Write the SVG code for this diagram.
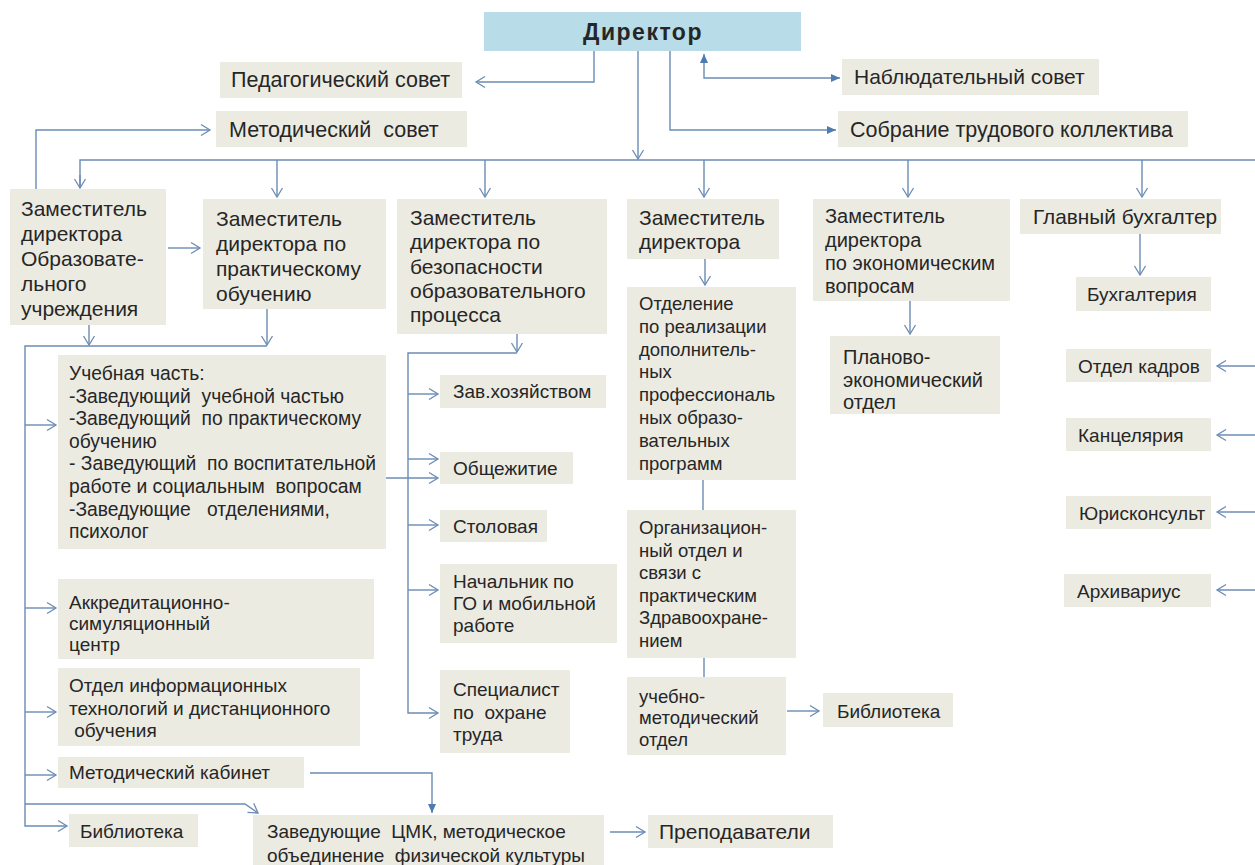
<svg xmlns="http://www.w3.org/2000/svg" width="1255" height="865" viewBox="0 0 1255 865">
<defs>
<style>
.b{fill:#ecebe2}
.d{fill:#b8dde8}
text{font-family:"Liberation Sans",Arial,sans-serif;fill:#262626;font-size:20px}
.s19{font-size:19px}
.s193{font-size:19.3px}
.s18{font-size:18.5px}
.s20{font-size:20px}
.s208{font-size:20.8px}
.s21{font-size:21px}
.s215{font-size:21.5px}
.dir{font-size:23px;font-weight:bold;letter-spacing:1.5px}
.c{stroke:#6b8cb4;stroke-width:1.4;fill:none}
</style>
<marker id="a" markerWidth="12" markerHeight="14" refX="10" refY="7" orient="auto" markerUnits="userSpaceOnUse"><path d="M1,1.5 L10,7 L1,12.5" fill="none" stroke="#6b8cb4" stroke-width="1.3"/></marker>
<marker id="f" markerWidth="11" markerHeight="11" refX="9" refY="5.5" orient="auto-start-reverse" markerUnits="userSpaceOnUse"><path d="M0,1.5 L9,5.5 L0,9.5 z" fill="#4f7bb0"/></marker>
</defs>
<rect width="1255" height="865" fill="#ffffff"/>

<g id="director"><rect class="d" x="484" y="12" width="317" height="39"/><text class="dir" x="643" y="40" text-anchor="middle">Директор</text></g>
<g id="ped"><rect class="b" x="220" y="62" width="242" height="36"/><text class="s215" x="231" y="87">Педагогический совет</text></g>
<g id="nabl"><rect class="b" x="842" y="59" width="257" height="36"/><text class="s21" x="854" y="84">Наблюдательный совет</text></g>
<g id="metsovet"><rect class="b" x="216" y="111" width="251" height="36"/><text class="s215" x="229" y="137" xml:space="preserve">Методический  совет</text></g>
<g id="sobr"><rect class="b" x="838" y="111" width="350" height="36"/><text class="s215" x="850" y="137">Собрание трудового коллектива</text></g>

<g id="zam1"><rect class="b" x="10" y="189" width="156" height="136"/><text class="s21"><tspan x="21" y="216">Заместитель</tspan><tspan x="21" y="241">директора</tspan><tspan x="21" y="266">Образовате-</tspan><tspan x="21" y="291">льного</tspan><tspan x="21" y="316">учреждения</tspan></text></g>
<g id="zam2"><rect class="b" x="203" y="199" width="183" height="110"/><text class="s21"><tspan x="216" y="226">Заместитель</tspan><tspan x="216" y="251">директора по</tspan><tspan x="216" y="276">практическому</tspan><tspan x="216" y="301">обучению</tspan></text></g>
<g id="zam3"><rect class="b" x="397" y="199" width="210" height="135"/><text class="s21"><tspan x="410" y="225">Заместитель</tspan><tspan x="410" y="249">директора по</tspan><tspan x="410" y="274">безопасности</tspan><tspan x="410" y="298">образовательного</tspan><tspan x="410" y="322">процесса</tspan></text></g>
<g id="zam4"><rect class="b" x="627" y="199" width="152" height="60"/><text class="s21"><tspan x="639" y="225">Заместитель</tspan><tspan x="639" y="249">директора</tspan></text></g>
<g id="zam5"><rect class="b" x="813" y="199" width="197" height="102"/><text class="s20"><tspan x="825" y="223">Заместитель</tspan><tspan x="825" y="247">директора</tspan><tspan x="825" y="270">по экономическим</tspan><tspan x="825" y="293">вопросам</tspan></text></g>
<g id="glavbuh"><rect class="b" x="1020" y="199" width="201" height="35"/><text class="s208" x="1033" y="224">Главный бухгалтер</text></g>

<g id="otdelenie"><rect class="b" x="627" y="287" width="169" height="193"/><text class="s18"><tspan x="639" y="310">Отделение</tspan><tspan x="639" y="333">по реализации</tspan><tspan x="639" y="356">дополнитель-</tspan><tspan x="639" y="378">ных</tspan><tspan x="639" y="401">профессиональ</tspan><tspan x="639" y="424">ных образо-</tspan><tspan x="639" y="447">вательных</tspan><tspan x="639" y="470">программ</tspan></text></g>
<g id="org"><rect class="b" x="627" y="510" width="169" height="148"/><text class="s18"><tspan x="639" y="534">Организацион-</tspan><tspan x="639" y="557">ный отдел и</tspan><tspan x="639" y="579">связи с</tspan><tspan x="639" y="602">практическим</tspan><tspan x="639" y="624">Здравоохране-</tspan><tspan x="639" y="647">нием</tspan></text></g>
<g id="uchmet"><rect class="b" x="627" y="677" width="159" height="78"/><text class="s18"><tspan x="639" y="703">учебно-</tspan><tspan x="639" y="724">методический</tspan><tspan x="639" y="746">отдел</tspan></text></g>
<g id="bibl2"><rect class="b" x="823" y="693" width="130" height="34"/><text x="837" y="718" class="s19">Библиотека</text></g>

<g id="planek"><rect class="b" x="830" y="336" width="170" height="78"/><text class="s20"><tspan x="843" y="364">Планово-</tspan><tspan x="843" y="386.5">экономический</tspan><tspan x="843" y="409">отдел</tspan></text></g>
<g id="buh"><rect class="b" x="1076" y="277" width="135" height="34"/><text x="1087" y="301" class="s19">Бухгалтерия</text></g>
<g id="kadry"><rect class="b" x="1066" y="349" width="145" height="33"/><text x="1078" y="373" class="s19">Отдел кадров</text></g>
<g id="kanc"><rect class="b" x="1066" y="418" width="145" height="33"/><text x="1078" y="442" class="s19">Канцелярия</text></g>
<g id="yur"><rect class="b" x="1066" y="496" width="145" height="33"/><text x="1079" y="520" class="s19">Юрисконсульт</text></g>
<g id="arh"><rect class="b" x="1064" y="574" width="147" height="33"/><text x="1077" y="598" class="s19">Архивариус</text></g>

<g id="uchchast"><rect class="b" x="58" y="355" width="328" height="194"/><text class="s193" xml:space="preserve"><tspan x="69" y="380">Учебная часть:</tspan><tspan x="69" y="402.6">-Заведующий  учебной частью</tspan><tspan x="69" y="425.2">-Заведующий  по практическому</tspan><tspan x="69" y="447.8">обучению</tspan><tspan x="69" y="470.4">- Заведующий  по воспитательной</tspan><tspan x="69" y="493">работе и социальным  вопросам</tspan><tspan x="69" y="515.6">-Заведующие   отделениями,</tspan><tspan x="69" y="538.2">психолог</tspan></text></g>
<g id="akkr"><rect class="b" x="58" y="579" width="316" height="80"/><text class="s19"><tspan x="69" y="609">Аккредитационно-</tspan><tspan x="69" y="630">симуляционный</tspan><tspan x="69" y="651">центр</tspan></text></g>
<g id="inf"><rect class="b" x="58" y="668" width="302" height="78"/><text class="s19" xml:space="preserve"><tspan x="69" y="692">Отдел информационных</tspan><tspan x="69" y="714.5">технологий и дистанционного</tspan><tspan x="69" y="737"> обучения</tspan></text></g>
<g id="metkab"><rect class="b" x="58" y="757" width="246" height="31"/><text x="69" y="779" class="s19">Методический кабинет</text></g>
<g id="bibl1"><rect class="b" x="69" y="814" width="129" height="33"/><text x="80" y="838" class="s19">Библиотека</text></g>
<g id="cmk"><rect class="b" x="253" y="815" width="351" height="52"/><text class="s19" xml:space="preserve"><tspan x="267" y="838">Заведующие  ЦМК, методическое</tspan><tspan x="267" y="862">объединение  физической культуры</tspan></text></g>
<g id="prepod"><rect class="b" x="648" y="815" width="185" height="33"/><text x="659" y="839" class="s21">Преподаватели</text></g>

<g id="zavhoz"><rect class="b" x="440" y="375" width="166" height="33"/><text x="453" y="398" class="s19">Зав.хозяйством</text></g>
<g id="obsh"><rect class="b" x="440" y="452" width="133" height="32"/><text x="453" y="475" class="s19">Общежитие</text></g>
<g id="stol"><rect class="b" x="440" y="510" width="107" height="32"/><text x="453" y="533" class="s19">Столовая</text></g>
<g id="nach"><rect class="b" x="440" y="564" width="177" height="79"/><text class="s19"><tspan x="453" y="588">Начальник по</tspan><tspan x="453" y="610">ГО и мобильной</tspan><tspan x="453" y="632">работе</tspan></text></g>
<g id="spec"><rect class="b" x="440" y="670" width="130" height="83"/><text class="s19" xml:space="preserve"><tspan x="453" y="696">Специалист</tspan><tspan x="453" y="718.5">по  охране</tspan><tspan x="453" y="741">труда</tspan></text></g>

<g id="connectors" class="c">
<polyline points="594,51 594,82 476,82" marker-end="url(#a)"/>
<line x1="638" y1="51" x2="638" y2="159" marker-end="url(#a)"/>
<polyline points="670,51 670,130 836,130" marker-end="url(#f)"/>
<polyline points="704,54 704,78 840,78" marker-start="url(#f)" marker-end="url(#f)"/>
<polyline points="36,189 36,130 210,130" marker-end="url(#a)"/>
<polyline points="80,188 80,160 1255,160"/>
<line x1="80" y1="175" x2="80" y2="188" marker-end="url(#a)"/>
<line x1="277" y1="160" x2="277" y2="197" marker-end="url(#a)"/>
<line x1="485" y1="160" x2="485" y2="197" marker-end="url(#a)"/>
<line x1="704" y1="160" x2="704" y2="197" marker-end="url(#a)"/>
<line x1="908" y1="160" x2="908" y2="197" marker-end="url(#a)"/>
<line x1="1142" y1="160" x2="1142" y2="197" marker-end="url(#a)"/>
<line x1="1255" y1="366" x2="1217" y2="366" marker-end="url(#a)"/>
<line x1="1255" y1="435" x2="1217" y2="435" marker-end="url(#a)"/>
<line x1="1255" y1="512" x2="1217" y2="512" marker-end="url(#a)"/>
<line x1="1255" y1="590" x2="1217" y2="590" marker-end="url(#a)"/>
<line x1="168" y1="248" x2="200" y2="248" marker-end="url(#a)"/>
<line x1="705" y1="259" x2="705" y2="285" marker-end="url(#a)"/>
<line x1="703" y1="480" x2="703" y2="510"/>
<line x1="704" y1="658" x2="704" y2="677"/>
<line x1="787" y1="711" x2="819" y2="711" marker-end="url(#a)"/>
<line x1="910" y1="301" x2="910" y2="334" marker-end="url(#a)"/>
<line x1="1140" y1="234" x2="1140" y2="275" marker-end="url(#a)"/>
<line x1="89" y1="325" x2="89" y2="345" marker-end="url(#a)"/>
<line x1="267" y1="309" x2="267" y2="345" marker-end="url(#a)"/>
<polyline points="267,346 25,346 25,826 67,826" marker-end="url(#a)"/>
<line x1="25" y1="425" x2="56" y2="425" marker-end="url(#a)"/>
<line x1="25" y1="608" x2="56" y2="608" marker-end="url(#a)"/>
<line x1="25" y1="712" x2="56" y2="712" marker-end="url(#a)"/>
<line x1="25" y1="775" x2="56" y2="775" marker-end="url(#a)"/>
<polyline points="25,804 245,804 258,813" marker-end="url(#a)"/>
<polyline points="310,773 432,773 432,813" marker-end="url(#f)"/>
<line x1="610" y1="832" x2="645" y2="832" marker-end="url(#a)"/>
<line x1="517" y1="334" x2="517" y2="352" marker-end="url(#a)"/>
<polyline points="517,353 408,353 408,713 438,713" marker-end="url(#a)"/>
<line x1="408" y1="394" x2="438" y2="394" marker-end="url(#a)"/>
<line x1="408" y1="459" x2="438" y2="459" marker-end="url(#a)"/>
<line x1="386" y1="478" x2="438" y2="478" marker-end="url(#a)"/>
<line x1="408" y1="525" x2="438" y2="525" marker-end="url(#a)"/>
<line x1="408" y1="590" x2="438" y2="590" marker-end="url(#a)"/>
</g>
</svg>
